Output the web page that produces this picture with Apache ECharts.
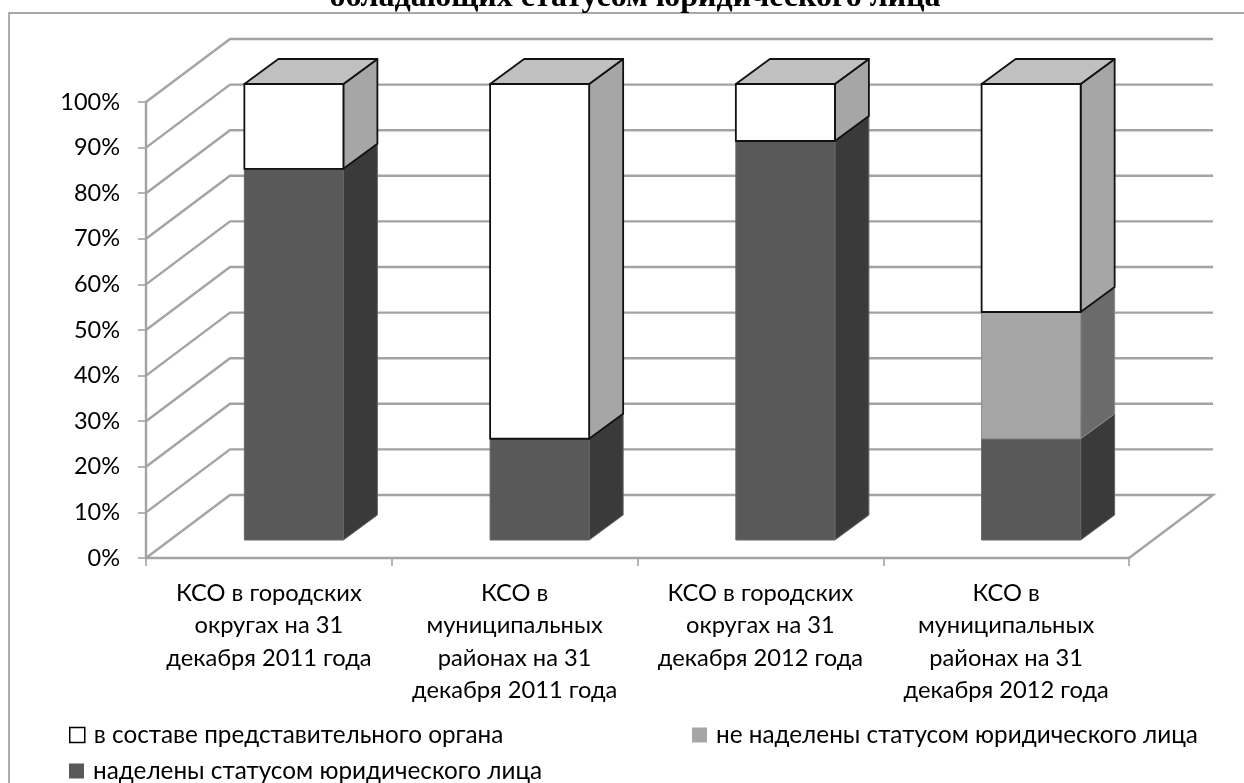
<!DOCTYPE html>
<html><head><meta charset="utf-8">
<style>html,body{margin:0;padding:0;background:#fff}#c{width:1244px;height:783px}</style>
<script src="https://cdn.jsdelivr.net/npm/echarts@6/dist/echarts.min.js"></script>
</head><body><div id="c"></div>
<script>
var titleText = 'обладающих статусом юридического лица';
var categories = ['КСО в городских\nокругах на 31\nдекабря 2011 года','КСО в\nмуниципальных\nрайонах на 31\nдекабря 2011 года','КСО в городских\nокругах на 31\nдекабря 2012 года','КСО в\nмуниципальных\nрайонах на 31\nдекабря 2012 года'];
var nameVested = 'наделены статусом юридического лица';
var nameNotVested = 'не наделены статусом юридического лица';
var nameInBody = 'в составе представительного органа';
var vested = [81.4, 22.2, 87.5, 22.2];
var notVested = [0, 0, 0, 27.8];
var inBody = [18.6, 77.8, 12.5, 50];
var ticks = [0,10,20,30,40,50,60,70,80,90,100];

var FONT = 'Lato, Carlito, "Open Sans", sans-serif';
var GRID = '#a3a3a3';
var WALL = {dx:84, dy:-63};
var BAR_OFF = {dx:25, dy:-18};
var BAR_DEPTH = {dx:34, dy:-25};
var BAR_RATIO = 0.403;

function wallItem(params, api){
  var cs = params.coordSys;
  var y = api.coord([0, api.value(0)])[1];
  var x0 = cs.x, x1 = cs.x + cs.width;
  var pts = [[x0,y],[x0+WALL.dx,y+WALL.dy],[x1+WALL.dx,y+WALL.dy]];
  if (api.value(0) === 0) pts.push([x1,y]);
  return {type:'polyline', shape:{points:pts}, style:{fill:null, stroke:GRID, lineWidth:2.4}};
}
function barRender(colors){
  return function(params, api){
    var i = api.value(0), lo = api.value(1), hi = api.value(2);
    if (hi - lo <= 0) return null;
    var w = api.size([1,0])[0] * BAR_RATIO;
    var a = api.coord([i, lo]), b = api.coord([i, hi]);
    var l = a[0] - w/2 + BAR_OFF.dx, r = l + w;
    var yb = a[1] + BAR_OFF.dy, yt = b[1] + BAR_OFF.dy;
    var d = BAR_DEPTH;
    var edge = {stroke:colors.edge, lineWidth:colors.lw, lineJoin:'round'};
    var kids = [
      {type:'polygon', shape:{points:[[r,yb],[r+d.dx,yb+d.dy],[r+d.dx,yt+d.dy],[r,yt]]}, style:Object.assign({fill:colors.side}, edge)},
      {type:'polygon', shape:{points:[[l,yb],[r,yb],[r,yt],[l,yt]]}, style:Object.assign({fill:colors.front}, edge)}
    ];
    if (colors.top) kids.push({type:'polygon', shape:{points:[[l,yt],[r,yt],[r+d.dx,yt+d.dy],[l+d.dx,yt+d.dy]]}, style:Object.assign({fill:colors.top}, edge)});
    return {type:'group', children:kids};
  };
}
function stackData(vals, below){
  return vals.map(function(v,i){ var base = below.reduce(function(s,arr){return s+arr[i];},0); return [i, base, base+v]; });
}
function barSeries(name, vals, below, colors){
  return {type:'custom', name:name, coordinateSystem:'cartesian2d', z:5, clip:false,
    renderItem:barRender(colors), encode:{x:0,y:[1,2]}, data:stackData(vals, below),
    itemStyle:{color:colors.front}};
}
var legendText = {fontSize:24.3, color:'#000', fontFamily:FONT, padding:[0,0,0,4]};
var option = {
  backgroundColor:'#fff', animation:false, textStyle:{fontFamily:FONT},
  title:{text:titleText, left:630, textAlign:'center', top:-23, textStyle:{fontFamily:'"Liberation Serif", serif', fontWeight:'bold', fontSize:32, color:'#000'}},
  graphic:[{type:'rect', shape:{x:9,y:13,width:1300,height:900}, style:{fill:null, stroke:'#8c8c8c', lineWidth:1.4}, z:0}],
  grid:{left:146, right:115, top:102, bottom:225},
  xAxis:{type:'category', data:categories, boundaryGap:true,
    axisLine:{lineStyle:{color:GRID,width:2.4}}, axisTick:{show:true, alignWithLabel:false, length:8, lineStyle:{color:GRID,width:1.6}},
    axisLabel:{interval:0, color:'#000', fontSize:23.7, fontFamily:FONT, lineHeight:32.5, margin:19, align:'center'}},
  yAxis:{type:'value', min:0, max:100, interval:10,
    axisLine:{show:true, lineStyle:{color:GRID,width:2.4}}, axisTick:{show:true, length:8, lineStyle:{color:GRID,width:1.6}},
    splitLine:{show:false}, axisLabel:{color:'#000', fontSize:23.5, fontFamily:FONT, margin:26, padding:[2,0,0,0], formatter:'{value}%'}},
  legend:[
    {left:64, top:718, itemWidth:15, itemHeight:15, itemGap:8, selectedMode:false, data:[{name:nameInBody, icon:'rect', itemStyle:{color:'#fff', borderColor:'#000', borderWidth:1.5}}], textStyle:legendText},
    {left:687, top:718, itemWidth:15, itemHeight:15, itemGap:8, selectedMode:false, data:[{name:nameNotVested, icon:'rect', itemStyle:{color:'#a6a6a6', borderWidth:0}}], textStyle:legendText},
    {left:64, top:754, itemWidth:15, itemHeight:15, itemGap:8, selectedMode:false, data:[{name:nameVested, icon:'rect', itemStyle:{color:'#595959', borderWidth:0}}], textStyle:legendText}
  ],
  series:[
    {type:'custom', name:'walls', coordinateSystem:'cartesian2d', z:1, clip:false, silent:true, renderItem:wallItem, encode:{y:0}, data:ticks.map(function(t){return [t];})},
    barSeries(nameVested, vested, [], {front:'#595959', side:'#3a3a3a', edge:'#666666', lw:1}),
    barSeries(nameNotVested, notVested, [vested], {front:'#a6a6a6', side:'#6b6b6b', edge:'#8c8c8c', lw:1}),
    barSeries(nameInBody, inBody, [vested, notVested], {front:'#ffffff', side:'#a6a6a6', top:'#c0c0c0', edge:'#111111', lw:1.8})
  ]
};
var chart = echarts.init(document.getElementById('c'), null, {renderer:'canvas'});
chart.setOption(option);
</script></body></html>
